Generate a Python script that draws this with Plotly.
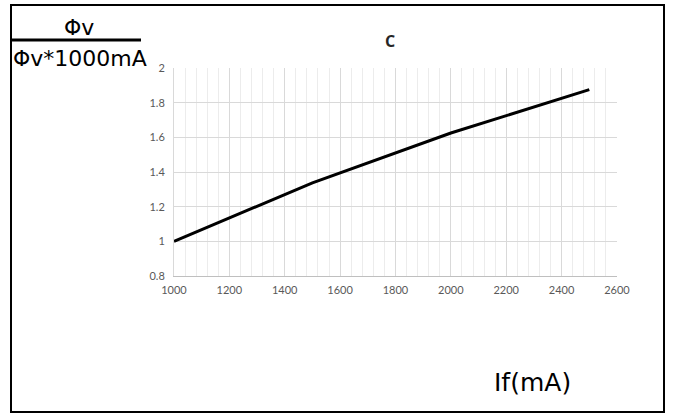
import plotly.graph_objects as go

# Data
current_ma = [1000, 1500, 2000, 2500]
relative_flux = [1.0, 1.337, 1.625, 1.875]
x_ticks = [1000, 1200, 1400, 1600, 1800, 2000, 2200, 2400, 2600]
y_ticks = [0.8, 1, 1.2, 1.4, 1.6, 1.8, 2]
y_tick_labels = ["0.8", "1", "1.2", "1.4", "1.6", "1.8", "2"]

W, H = 673, 414
L, R, T, B = 174, 56, 68, 138
PW, PH = W - L - R, H - T - B


def px(x):
    return (x - L) / PW


def py(y):
    return (H - B - y) / PH


fig = go.Figure()
fig.add_trace(go.Scatter(x=current_ma, y=relative_flux, mode="lines",
                         line=dict(color="black", width=3), showlegend=False,
                         hoverinfo="skip"))

tick_font = dict(family="Lato, Open Sans, sans-serif", size=11, color="#595959")
fig.update_layout(
    width=W, height=H,
    margin=dict(l=L, r=R, t=T, b=B),
    paper_bgcolor="white", plot_bgcolor="white",
    xaxis=dict(range=[1000, 2600], tickvals=x_ticks, showgrid=True,
               gridcolor="#d9d9d9", gridwidth=1, zeroline=False,
               showline=True, linecolor="#bfbfbf", linewidth=1,
               tickfont=tick_font, ticks="", ticklabelstandoff=4,
               minor=dict(dtick=40, showgrid=True, gridcolor="#ececec", gridwidth=1),
               fixedrange=True),
    yaxis=dict(range=[0.8, 2], tickvals=y_ticks, ticktext=y_tick_labels,
               showgrid=True, gridcolor="#d9d9d9", gridwidth=1, zeroline=False,
               showline=True, linecolor="#d9d9d9", linewidth=1,
               tickfont=tick_font, ticks="", ticklabelstandoff=6,
               fixedrange=True),
)

# Outer frame
fig.add_shape(type="rect", xref="paper", yref="paper",
              x0=px(11), x1=px(664), y0=py(412), y1=py(5),
              line=dict(color="black", width=2), layer="above")
# Fraction bar under Φv
fig.add_shape(type="line", xref="paper", yref="paper",
              x0=px(12), x1=px(141), y0=py(40), y1=py(40),
              line=dict(color="black", width=3))

big = dict(family="DejaVu Sans, sans-serif", size=22, color="black")
fig.add_annotation(text="Φv", xref="paper", yref="paper", x=px(79), y=py(27),
                   showarrow=False, font=big, xanchor="center", yanchor="middle")
fig.add_annotation(text="Φv*1000mA", xref="paper", yref="paper", x=px(80), y=py(59),
                   showarrow=False, font=big, xanchor="center", yanchor="middle")
fig.add_annotation(text="If(mA)", xref="paper", yref="paper", x=px(532), y=py(382),
                   showarrow=False, font=dict(family="DejaVu Sans, sans-serif",
                                              size=25, color="black"),
                   xanchor="center", yanchor="middle")
fig.add_annotation(text="<b>C</b>", xref="paper", yref="paper", x=px(390), y=py(41),
                   showarrow=False,
                   font=dict(family="Open Sans, sans-serif", size=16, color="#262626"),
                   xanchor="center", yanchor="middle")

fig.write_html("out.html", post_script="document.body.style.margin='0';",
               config={"displayModeBar": False})
